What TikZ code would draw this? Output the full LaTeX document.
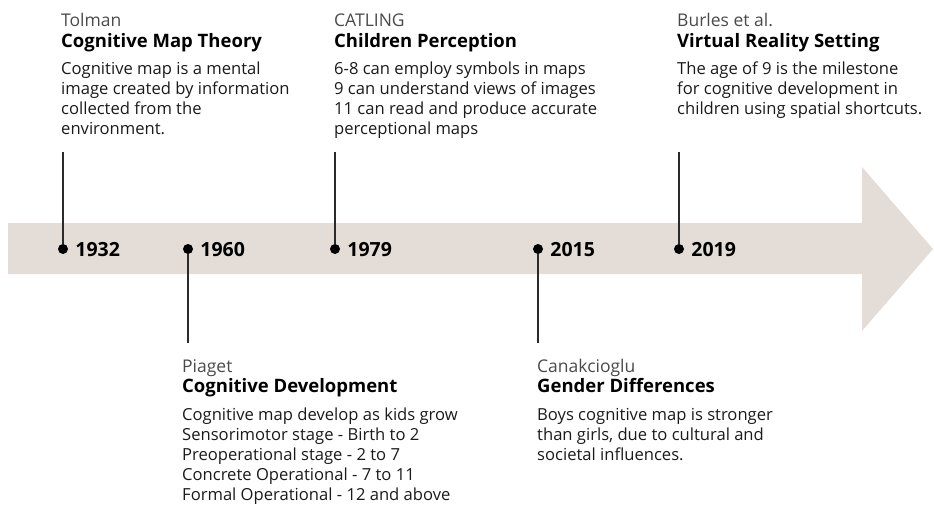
\documentclass[tikz,border=0pt]{standalone}
\usepackage{fontspec}
\setmainfont{Open Sans}
\usetikzlibrary{positioning}
\definecolor{band}{HTML}{E3DCD7}
\definecolor{ink}{HTML}{1A1A1A}
\definecolor{namegray}{HTML}{4A4A4A}
\definecolor{stemgray}{HTML}{2B2B2B}

\begin{document}
\begin{tikzpicture}[x=1pt, y=-1pt,
    who/.style = {anchor=base west, inner sep=0pt, text=namegray, font=\fontsize{17.5}{20}\selectfont},
    topic/.style = {anchor=base west, inner sep=0pt, text=black, font=\fontsize{18.5}{20}\selectfont\bfseries},
    note/.style = {anchor=base west, inner sep=0pt, align=left, text=ink, font=\fontsize{16.6}{20}\selectfont},
    dot/.style = {circle, fill=black, inner sep=0pt, minimum size=10pt},
    year/.style = {inner sep=0pt, text depth=0pt, font=\fontsize{19.5}{20}\selectfont\bfseries},
    stem/.style = {draw=stemgray, line width=1.4pt}]
    \useasboundingbox (0,0) rectangle (934,504);
    % timeline band
    \fill[band] (8,223) -- (862,223) -- (862,167) -- (933,249) -- (862,331) -- (862,274) -- (8,274) -- cycle;

    % dots and years
    \node[dot] (d1) at (63,249) {};
    \node[dot] (d2) at (188,249) {};
    \node[dot] (d3) at (335,249) {};
    \node[dot] (d4) at (538,249) {};
    \node[dot] (d5) at (679,249) {};
    \node[year] (y1) [right=7pt of d1] {1932};
    \node[year] (y2) [right=7pt of d2] {1960};
    \node[year] (y3) [right=7pt of d3] {1979};
    \node[year] (y4) [right=7pt of d4] {2015};
    \node[year] (y5) [right=7pt of d5] {2019};

    % stems
    \coordinate (s1) at (63,152);
    \coordinate (s2) at (188,343);
    \coordinate (s3) at (335,152);
    \coordinate (s4) at (538,343);
    \coordinate (s5) at (679,152);
    \draw[stem] (s1) -- (d1);
    \draw[stem] (d2) -- (s2);
    \draw[stem] (s3) -- (d3);
    \draw[stem] (d4) -- (s4);
    \draw[stem] (s5) -- (d5);

    % events above the line (notes sit on their last baseline)
    \begin{scope}[xshift=61pt]
        \node[who] (tolman) at (0,26) {Tolman};
        \node[topic] (tolmanT) at (0,47) {Cognitive Map Theory};
        \node[note] (tolmanN) at (0,134) {Cognitive map is a mental\\image created by information\\collected from the\\environment.};
    \end{scope}
    \begin{scope}[xshift=334pt]
        \node[who] (catling) at (0,26) {CATLING};
        \node[topic] (catlingT) at (0,47) {Children Perception};
        \node[note] (catlingN) at (0,134) {6-8 can employ symbols in maps\\9 can understand views of images\\11 can read and produce accurate\\perceptional maps};
    \end{scope}
    \begin{scope}[xshift=677pt]
        \node[who] (burles) at (0,26) {Burles et al.};
        \node[topic] (burlesT) at (0,47) {Virtual Reality Setting};
        \node[note] (burlesN) at (0,114) {The age of 9 is the milestone\\for cognitive development in\\children using spatial shortcuts.};
    \end{scope}

    % events below the line
    \begin{scope}[xshift=182pt]
        \node[who] (piaget) at (0,372) {Piaget};
        \node[topic] (piagetT) at (0,392) {Cognitive Development};
        \node[note] (piagetN) at (0,500) {Cognitive map develop as kids grow\\Sensorimotor stage - Birth to 2\\Preoperational stage - 2 to 7\\Concrete Operational - 7 to 11\\Formal Operational - 12 and above};
    \end{scope}
    \begin{scope}[xshift=537pt]
        \node[who] (canak) at (0,372) {Canakcioglu};
        \node[topic] (canakT) at (0,392) {Gender Differences};
        \node[note] (canakN) at (0,460) {Boys cognitive map is stronger\\than girls, due to cultural and\\societal influences.};
    \end{scope}
\end{tikzpicture}
\end{document}
